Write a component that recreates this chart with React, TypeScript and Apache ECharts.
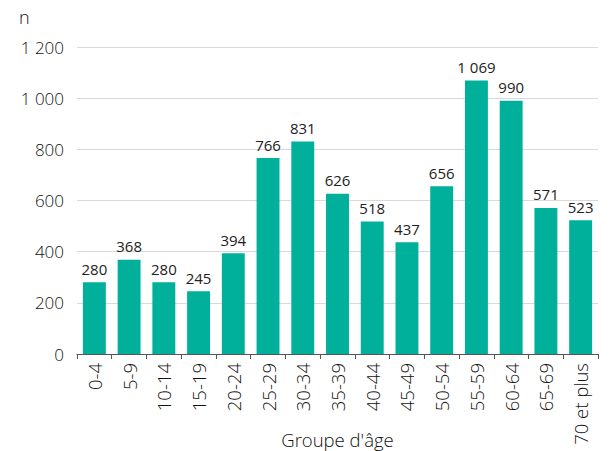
import React, { useEffect, useRef } from "react";
import * as echarts from "echarts";

const categories = ["0-4", "5-9", "10-14", "15-19", "20-24", "25-29", "30-34", "35-39", "40-44", "45-49", "50-54", "55-59", "60-64", "65-69", "70 et plus"];
const values = [280, 368, 280, 245, 394, 766, 831, 626, 518, 437, 656, 1069, 990, 571, 523];

const fmt = (v: number) => String(v).replace(/\B(?=(\d{3})+(?!\d))/g, " ");
const FONT = "'Open Sans', 'Noto Sans', sans-serif";

export default function App() {
  const ref = useRef<HTMLDivElement>(null);
  useEffect(() => {
    const chart = echarts.init(ref.current!, null, { renderer: "svg" });
    chart.setOption({
      animation: false,
      textStyle: { fontFamily: FONT },
      grid: { left: 77, right: 13, top: 47, bottom: 97, containLabel: false, outerBoundsMode: "none" },
      graphic: [
        { type: "text", left: 19, top: 8, style: { text: "n", fontSize: 18, fill: "#111", fontWeight: 300, fontFamily: FONT } },
      ],
      xAxis: {
        type: "category",
        data: categories,
        name: "Groupe d'âge",
        nameLocation: "middle",
        nameGap: 76,
        nameMoveOverlap: false,
        nameTextStyle: { fontSize: 18.5, color: "#111", fontWeight: 300, fontFamily: FONT },
        axisLine: { lineStyle: { color: "#555", width: 1 } },
        axisTick: { show: true, length: 5, alignWithLabel: false, lineStyle: { color: "#555" } },
        axisLabel: { rotate: 90, fontSize: 18.5, color: "#111", fontWeight: 300, margin: 9, interval: 0, fontFamily: FONT },
      },
      yAxis: {
        type: "value",
        min: 0,
        max: 1200,
        interval: 200,
        axisLine: { show: false },
        axisTick: { show: false },
        splitLine: { lineStyle: { color: "#d9d9d9", width: 1 } },
        axisLabel: { fontSize: 17, color: "#111", fontWeight: 300, margin: 13, formatter: (v: number) => fmt(v), fontFamily: FONT },
      },
      series: [
        {
          type: "bar",
          data: values,
          barWidth: "66%",
          itemStyle: { color: "#00b09b" },
          label: { show: true, position: "top", distance: 6, fontSize: 15, color: "#222", formatter: (p: any) => fmt(p.value), fontFamily: FONT },
        },
      ],
    });
    return () => chart.dispose();
  }, []);
  return <div ref={ref} style={{ width: 611, height: 451, position: "absolute", left: 0, top: 0 }} />;
}
